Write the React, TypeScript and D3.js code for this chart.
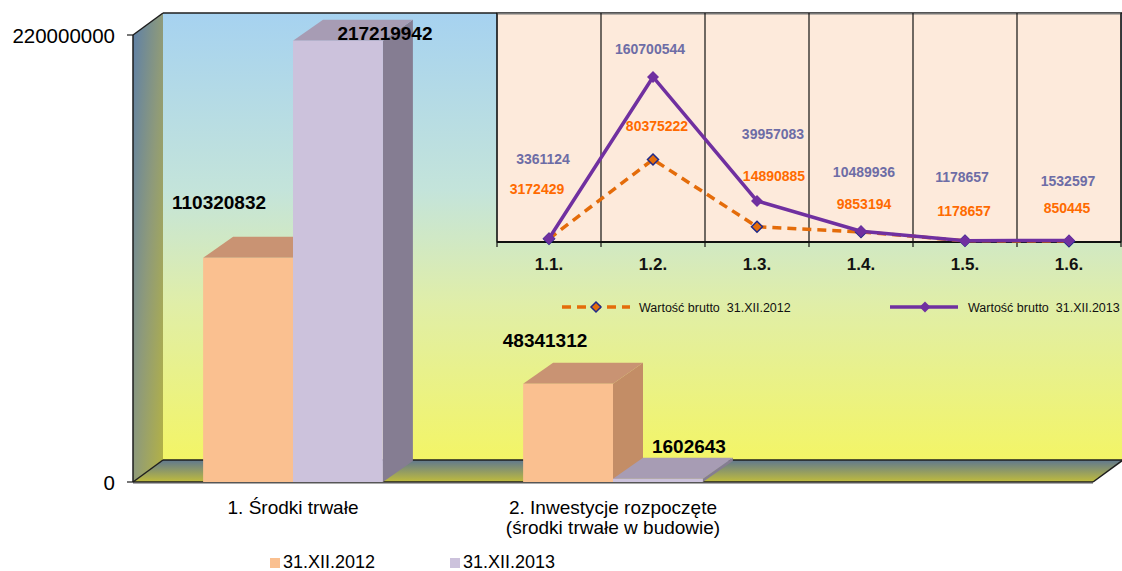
import React from "react";
import * as d3 from "d3";

// ---------- data ----------
const categories = ["1. Środki trwałe", "2. Inwestycje rozpoczęte|(środki trwałe w budowie)", " "];
const seriesNames = ["31.XII.2012", "31.XII.2013"];
const values2012: (number | null)[] = [110320832, 48341312, null];
const values2013: (number | null)[] = [217219942, 1602643, null];
const yTicks = [0, 220000000];

const insetCategories = ["1.1.", "1.2.", "1.3.", "1.4.", "1.5.", "1.6."];
const inset2012 = [3172429, 80375222, 14890885, 9853194, 1178657, 850445];
const inset2013 = [3361124, 160700544, 39957083, 10489936, 1178657, 1532597];
const insetNames = ["Wartość brutto  31.XII.2012", "Wartość brutto  31.XII.2013"];

// label placement offsets (px, relative to the mark)
const barLabelOffsets = [
  [[-29, -55], [47, -7]],
  [[-23, -43], [31, -32]],
];
const inset2012LabelOffsets = [[-12, -50], [4, -33], [17, -51], [3, -28], [-1, -30], [-2, -33]];
const inset2013LabelOffsets = [[-6, -80], [-3, -28], [16, -67], [3, -59], [-3, -64], [-1, -59]];

// ---------- layout / style ----------
const W = 1122, H = 571;
const FX0 = 133, FX1 = 1093, FY0 = 35, FY1 = 482;
const DX = 30, DY = 22;
const BDX = 30, BDY = 21;
const FONT = "'Liberation Sans', Arial, sans-serif";

const barColors = [
  { front: "#FAC090", side: "#C38D66", top: "#C99373" },
  { front: "#CCC2DC", side: "#857D92", top: "#A79CB4" },
];

const IX0 = 497, IX1 = 1121, IY0 = 13, IY1 = 242;

function diamond(x: number, y: number, r: number) {
  return `M${x},${y - r}L${x + r},${y}L${x},${y + r}L${x - r},${y}Z`;
}

export default function App() {
  const y = d3.scaleLinear().domain([0, 220000000]).range([FY1, FY0]);
  const x = d3.scaleBand<string>().domain(categories).range([FX0, FX1]);
  const inner = d3
    .scaleBand<string>()
    .domain(seriesNames)
    .range([0, x.bandwidth()])
    .paddingInner(0)
    .paddingOuter(0.78);

  const ix = d3.scaleBand<string>().domain(insetCategories).range([IX0, IX1]);
  const iy = d3.scaleLinear().domain([0, 223000000]).range([IY1, IY0]);
  const px = (c: string) => (ix(c) as number) + ix.bandwidth() / 2;
  const line = d3
    .line<number>()
    .x((_, i) => px(insetCategories[i]))
    .y((d) => iy(d));

  const series = [values2012, values2013];

  const bars: React.ReactNode[] = [];
  const barLabels: React.ReactNode[] = [];
  categories.forEach((c, ci) => {
    seriesNames.forEach((s, si) => {
      const v = series[si][ci];
      if (v == null) return;
      const bx = (x(c) as number) + (inner(s) as number);
      const bw = inner.bandwidth();
      const yt = y(v);
      const col = barColors[si];
      bars.push(
        <g key={`b${ci}-${si}`}>
          <polygon
            points={`${bx + bw},${yt} ${bx + bw + BDX},${yt - BDY} ${bx + bw + BDX},${FY1 - BDY} ${bx + bw},${FY1}`}
            fill={col.side}
          />
          <polygon
            points={`${bx},${yt} ${bx + BDX},${yt - BDY} ${bx + bw + BDX},${yt - BDY} ${bx + bw},${yt}`}
            fill={col.top}
          />
          <rect x={bx} y={yt} width={bw} height={FY1 - yt} fill={col.front} />
        </g>
      );
      const off = barLabelOffsets[ci][si];
      barLabels.push(
        <text
          key={`l${ci}-${si}`}
          x={bx + bw / 2 + off[0]}
          y={yt + off[1]}
          textAnchor="middle"
          dominantBaseline="central"
          fontFamily={FONT}
          fontWeight="bold"
          fontSize={19}
          fill="#000"
        >
          {d3.format("d")(v)}
        </text>
      );
    });
  });

  const boundaries = insetCategories.map((c) => ix(c) as number).concat([IX1]);

  return (
    <svg
      width={W}
      height={H}
      viewBox={`0 0 ${W} ${H}`}
      style={{ position: "absolute", left: 0, top: 0, background: "#fff" }}
    >
      <defs>
        <linearGradient id="backWall" x1="0" y1="0" x2="0" y2="1">
          <stop offset="0" stopColor="#A6D2F0" />
          <stop offset="0.4" stopColor="#C4E4DA" />
          <stop offset="0.65" stopColor="#E0EEA8" />
          <stop offset="1" stopColor="#F3F566" />
        </linearGradient>
        <linearGradient id="leftWall" x1="0" y1="0" x2="1" y2="1">
          <stop offset="0" stopColor="#5E80A8" />
          <stop offset="0.5" stopColor="#8E9A7A" />
          <stop offset="1" stopColor="#B4B244" />
        </linearGradient>
        <linearGradient id="floor" x1="0" y1="0" x2="0" y2="1">
          <stop offset="0" stopColor="#60788F" />
          <stop offset="1" stopColor="#C0BC3C" />
        </linearGradient>
      </defs>

      {/* walls */}
      <rect x={FX0 + DX} y={FY0 - DY} width={W - (FX0 + DX)} height={FY1 - FY0} fill="url(#backWall)" />
      <polygon
        points={`${FX0},${FY0} ${FX0 + DX},${FY0 - DY} ${FX0 + DX},${FY1 - DY} ${FX0},${FY1}`}
        fill="url(#leftWall)"
      />
      <polygon
        points={`${FX0},${FY1} ${FX0 + DX},${FY1 - DY} ${FX1 + DX},${FY1 - DY} ${FX1},${FY1}`}
        fill="url(#floor)"
      />
      <g stroke="#1E1E1E" strokeWidth={1.5} fill="none">
        <line x1={FX0 + DX} y1={FY0 - DY} x2={W} y2={FY0 - DY} />
        <line x1={FX0} y1={FY0} x2={FX0 + DX} y2={FY0 - DY} />
        <line x1={FX0} y1={FY0} x2={FX0} y2={FY1} />
        <line x1={FX0 + DX} y1={FY1 - DY} x2={FX1 + DX} y2={FY1 - DY} />
        <line x1={FX0} y1={FY1} x2={FX0 + DX} y2={FY1 - DY} />
        <line x1={FX0} y1={FY1} x2={FX1} y2={FY1} />
        <line x1={FX1} y1={FY1} x2={FX1 + DX} y2={FY1 - DY} />
      </g>
      <line x1={FX0} y1={FY1 + 1.5} x2={FX1} y2={FY1 + 1.5} stroke="#AAA" strokeWidth={1} />

      {/* y axis ticks */}
      {yTicks.map((t) => (
        <g key={t}>
          <line x1={FX0 - 6} x2={FX0} y1={y(t)} y2={y(t)} stroke="#1E1E1E" strokeWidth={1.2} />
          <text
            x={FX0 - 18}
            y={y(t)}
            textAnchor="end"
            dominantBaseline="central"
            fontFamily={FONT}
            fontSize={20.5}
            fill="#000"
          >
            {d3.format("d")(t)}
          </text>
        </g>
      ))}

      {bars}

      {/* category labels */}
      {categories.map((c) =>
        c.split("|").map((ln, li) => (
          <text
            key={c + li}
            x={(x(c) as number) + x.bandwidth() / 2}
            y={507 + li * 20}
            textAnchor="middle"
            dominantBaseline="central"
            fontFamily={FONT}
            fontSize={19}
            fill="#000"
          >
            {ln}
          </text>
        ))
      )}

      {/* main legend */}
      {seriesNames.map((s, si) => (
        <g key={s} transform={`translate(${270 + si * 180},0)`}>
          <rect x={0} y={558} width={10} height={10} fill={barColors[si].front} />
          <text x={13} y={562} dominantBaseline="central" fontFamily={FONT} fontSize={18} fill="#000">
            {s}
          </text>
        </g>
      ))}

      {barLabels}

      {/* ---------- inset line chart ---------- */}
      <rect x={IX0} y={IY0} width={IX1 - IX0} height={IY1 - IY0} fill="#FDEADB" stroke="#111" strokeWidth={1} />
      <line x1={IX0} x2={IX1} y1={IY0 + 0.5} y2={IY0 + 0.5} stroke="#777" strokeWidth={2} />
      {boundaries.map((bx, i) => (
        <line key={i} x1={bx} x2={bx} y1={IY0} y2={IY1 + 5} stroke="#111" strokeWidth={1.2} />
      ))}
      <line x1={IX0} x2={IX1} y1={IY1} y2={IY1} stroke="#111" strokeWidth={1.8} />

      <path
        d={line(inset2012) as string}
        fill="none"
        stroke="#E46C0A"
        strokeWidth={3.5}
        strokeDasharray="9 6"
      />
      {inset2012.map((v, i) => (
        <path
          key={i}
          d={diamond(px(insetCategories[i]), iy(v), 5.5)}
          fill="#E46C0A"
          stroke="#1F2A8A"
          strokeWidth={1.5}
        />
      ))}
      <path d={line(inset2013) as string} fill="none" stroke="#7030A0" strokeWidth={3.5} />
      {inset2013.map((v, i) => (
        <path key={i} d={diamond(px(insetCategories[i]), iy(v), 6)} fill="#7030A0" />
      ))}

      {inset2013.map((v, i) => (
        <text
          key={"p" + i}
          x={px(insetCategories[i]) + inset2013LabelOffsets[i][0]}
          y={iy(v) + inset2013LabelOffsets[i][1]}
          textAnchor="middle"
          dominantBaseline="central"
          fontFamily={FONT}
          fontWeight="bold"
          fontSize={14}
          fill="#6D6DA6"
        >
          {d3.format("d")(v)}
        </text>
      ))}
      {inset2012.map((v, i) => (
        <text
          key={"o" + i}
          x={px(insetCategories[i]) + inset2012LabelOffsets[i][0]}
          y={iy(v) + inset2012LabelOffsets[i][1]}
          textAnchor="middle"
          dominantBaseline="central"
          fontFamily={FONT}
          fontWeight="bold"
          fontSize={14}
          fill="#FF6A00"
        >
          {d3.format("d")(v)}
        </text>
      ))}

      {insetCategories.map((c) => (
        <text
          key={c}
          x={px(c)}
          y={264}
          textAnchor="middle"
          dominantBaseline="central"
          fontFamily={FONT}
          fontWeight="bold"
          fontSize={17}
          fill="#111"
        >
          {c}
        </text>
      ))}

      {/* inset legend */}
      <g>
        <line x1={562} x2={630} y1={307} y2={307} stroke="#E46C0A" strokeWidth={3.5} strokeDasharray="9 6" />
        <path d={diamond(596, 307, 5)} fill="#E46C0A" stroke="#1F2A8A" strokeWidth={1.5} />
        <text x={639} y={308} dominantBaseline="central" fontFamily={FONT} fontSize={12.5} fill="#111" xmlSpace="preserve" style={{ whiteSpace: "pre" }}>
          {insetNames[0]}
        </text>
        <line x1={890} x2={958} y1={307} y2={307} stroke="#7030A0" strokeWidth={3.5} />
        <path d={diamond(925, 307, 5.5)} fill="#7030A0" />
        <text x={968} y={308} dominantBaseline="central" fontFamily={FONT} fontSize={12.5} fill="#111" xmlSpace="preserve" style={{ whiteSpace: "pre" }}>
          {insetNames[1]}
        </text>
      </g>
    </svg>
  );
}
